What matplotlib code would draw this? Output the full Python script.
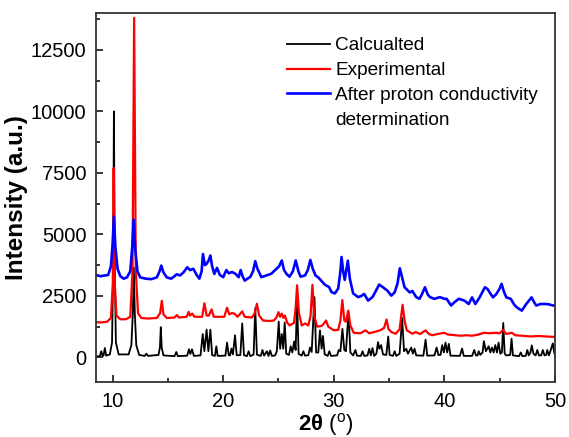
import numpy as np
import matplotlib
matplotlib.use('Agg')
import matplotlib.pyplot as plt
from matplotlib.lines import Line2D
from matplotlib.ticker import MultipleLocator

plt.rcParams['font.family'] = ['Liberation Sans', 'DejaVu Sans']
plt.rcParams['mathtext.fontset'] = 'custom'
plt.rcParams['mathtext.rm'] = 'Liberation Sans'
plt.rcParams['mathtext.bf'] = 'Liberation Sans:bold'

# (2theta, intensity)
calc = np.array([
    (8.5, 40), (8.85, 50), (8.98, 250), (9.1, 50), (9.18, 70), (9.3, 380), (9.42, 70),
    (9.75, 120), (9.95, 600), (10.05, 3500), (10.12, 10000), (10.2, 3500), (10.3, 600), (10.55, 120),
    (11.45, 120), (11.7, 500), (11.83, 1800), (11.92, 3650), (12.01, 1800), (12.14, 500), (12.4, 100),
    (12.9, 60), (13.05, 150), (13.2, 60), (14.15, 100), (14.28, 400), (14.36, 1230), (14.44, 400),
    (14.6, 80), (15.6, 50), (15.76, 220), (15.9, 50), (16.75, 70), (16.9, 330), (17.03, 140),
    (17.18, 330), (17.35, 60), (17.95, 80), (18.15, 950), (18.3, 250), (18.5, 1130), (18.66, 250),
    (18.84, 1130), (19.0, 90), (19.25, 60), (19.38, 450), (19.5, 60), (20.2, 70), (20.35, 600),
    (20.5, 90), (20.62, 80), (20.75, 360), (20.88, 120), (21.07, 900), (21.22, 90), (21.55, 90),
    (21.72, 1380), (21.88, 90), (22.15, 50), (22.3, 250), (22.45, 50), (22.75, 110), (22.9, 2000),
    (23.05, 110), (23.4, 60), (23.55, 300), (23.7, 70), (23.95, 250), (24.1, 60), (24.25, 280),
    (24.4, 60), (24.7, 80), (24.85, 250), (25.02, 1450), (25.15, 350), (25.3, 950), (25.43, 350),
    (25.56, 1420), (25.7, 150), (25.95, 100), (26.1, 450), (26.25, 200), (26.42, 650), (26.55, 300),
    (26.68, 2300), (26.82, 140), (27.1, 70), (27.25, 250), (27.4, 70), (27.7, 90), (27.85, 400),
    (28.0, 220), (28.25, 2450), (28.4, 200), (28.6, 200), (28.75, 1100), (28.9, 350), (29.02, 870),
    (29.18, 120), (29.45, 60), (29.6, 250), (29.75, 60), (30.3, 80), (30.45, 300), (30.6, 250),
    (30.78, 1160), (30.95, 300), (31.1, 250), (31.33, 1840), (31.5, 200), (31.75, 80), (31.95, 300),
    (32.1, 70), (32.45, 60), (32.6, 250), (32.75, 60), (33.05, 80), (33.2, 350), (33.35, 80),
    (33.5, 380), (33.65, 60), (33.85, 150), (34.0, 620), (34.12, 350), (34.28, 500), (34.45, 120),
    (34.75, 100), (34.92, 850), (35.05, 100), (35.35, 60), (35.5, 250), (35.65, 60), (35.95, 150),
    (36.18, 1600), (36.35, 250), (36.55, 350), (36.7, 150), (37.0, 400), (37.15, 150), (37.3, 350),
    (37.45, 80), (38.1, 70), (38.3, 720), (38.45, 70), (39.1, 80), (39.3, 400), (39.45, 100),
    (39.65, 100), (39.8, 500), (39.95, 200), (40.1, 600), (40.25, 200), (40.4, 550), (40.55, 70),
    (41.4, 60), (41.6, 360), (41.75, 60), (42.5, 60), (42.7, 300), (42.85, 80), (43.0, 80),
    (43.1, 250), (43.25, 100), (43.45, 200), (43.57, 660), (43.75, 250), (44.0, 450), (44.15, 200),
    (44.3, 400), (44.45, 200), (44.6, 500), (44.75, 200), (44.9, 600), (45.05, 150), (45.2, 200),
    (45.32, 1400), (45.45, 150), (45.6, 80), (45.95, 100), (46.07, 760), (46.2, 80), (46.75, 50),
    (46.9, 200), (47.05, 50), (47.35, 60), (47.5, 300), (47.62, 80), (47.78, 200), (47.9, 490),
    (48.05, 150), (48.25, 80), (48.4, 300), (48.55, 80), (48.75, 80), (48.9, 300), (49.05, 80),
    (49.2, 100), (49.3, 300), (49.45, 80), (49.65, 350), (49.8, 570), (49.95, 150), (50.0, 100),
])

expt = np.array([
    (8.5, 1430), (9.0, 1420), (9.5, 1450), (9.85, 1600), (10.02, 3000), (10.1, 7700), (10.2, 3000),
    (10.35, 1700), (10.7, 1550), (11.2, 1550), (11.6, 1650), (11.8, 3500), (11.95, 13800),
    (12.1, 3500), (12.3, 1800), (12.6, 1600), (13.2, 1580), (14.0, 1600), (14.3, 1800), (14.45, 2300),
    (14.6, 1750), (14.9, 1600), (15.6, 1620), (15.8, 1720), (16.0, 1620), (16.7, 1650), (16.88, 1850),
    (17.0, 1700), (17.2, 1780), (17.4, 1650), (18.1, 1650), (18.3, 2200), (18.5, 1700), (18.7, 1700),
    (18.95, 1950), (19.15, 1650), (20.1, 1650), (20.35, 2020), (20.55, 1750), (20.8, 1800),
    (21.0, 1780), (21.3, 1650), (21.72, 1870), (21.95, 1650), (22.6, 1620), (22.85, 1800),
    (23.05, 2180), (23.25, 1700), (23.6, 1500), (24.2, 1480), (24.6, 1500), (24.85, 1650),
    (25.0, 1840), (25.15, 1650), (25.3, 1780), (25.45, 1600), (25.58, 1700), (25.8, 1400),
    (26.0, 1300), (26.4, 1400), (26.55, 2000), (26.68, 2930), (26.85, 1800), (27.1, 1300),
    (27.4, 1380), (27.7, 1300), (27.9, 1700), (28.07, 2950), (28.22, 1700), (28.5, 1250),
    (28.9, 1280), (29.15, 1400), (29.3, 1500), (29.5, 1250), (30.0, 1100), (30.4, 1120), (30.6, 1500),
    (30.77, 2330), (30.95, 1500), (31.1, 1450), (31.3, 1900), (31.5, 1300), (31.8, 1000), (32.4, 980),
    (32.87, 1100), (33.2, 980), (33.8, 1050), (34.2, 1100), (34.55, 1200), (34.77, 1540),
    (34.95, 1150), (35.2, 1030), (35.6, 960), (35.95, 1150), (36.1, 1700), (36.22, 2140), (36.4, 1500),
    (36.6, 1100), (37.1, 960), (37.4, 1030), (37.8, 950), (38.3, 1100), (38.6, 950), (38.9, 900),
    (39.4, 950), (40.0, 1000), (40.3, 930), (41.0, 900), (41.5, 880), (42.0, 900), (42.5, 880),
    (43.0, 920), (43.6, 1000), (44.1, 980), (44.6, 1000), (45.0, 980), (45.3, 1120), (45.6, 950),
    (46.1, 1000), (46.4, 900), (47.0, 880), (47.8, 850), (48.5, 870), (49.2, 850), (50.0, 830),
])

after = np.array([
    (8.5, 3350), (8.9, 3300), (9.3, 3330), (9.6, 3350), (9.85, 3700), (10.0, 4600), (10.12, 5720),
    (10.25, 4500), (10.45, 3600), (10.7, 3300), (11.0, 3200), (11.3, 3250), (11.6, 3500),
    (11.78, 4500), (11.9, 5600), (12.05, 4400), (12.25, 3500), (12.5, 3250), (13.0, 3200),
    (13.5, 3180), (14.0, 3250), (14.25, 3500), (14.4, 3730), (14.6, 3450), (14.9, 3250), (15.3, 3200),
    (15.6, 3300), (15.8, 3380), (16.1, 3330), (16.4, 3450), (16.75, 3660), (17.0, 3550), (17.3, 3600),
    (17.6, 3350), (17.85, 3200), (18.05, 3500), (18.17, 4200), (18.35, 3750), (18.5, 3800),
    (18.7, 3950), (18.84, 4140), (19.0, 3700), (19.2, 3390), (19.44, 3640), (19.7, 3350),
    (20.0, 3260), (20.29, 3550), (20.5, 3420), (20.8, 3470), (21.1, 3400), (21.4, 3260),
    (21.58, 3550), (21.75, 3300), (21.95, 3120), (22.2, 3200), (22.45, 3270), (22.7, 3500),
    (22.9, 3910), (23.1, 3600), (23.45, 3260), (23.9, 3330), (24.35, 3400), (24.8, 3590),
    (25.05, 3700), (25.3, 3940), (25.5, 3550), (25.75, 3380), (26.0, 3280), (26.3, 3500),
    (26.56, 3940), (26.8, 3500), (27.0, 3280), (27.4, 3330), (27.65, 3550), (27.88, 3960),
    (28.1, 3600), (28.35, 3330), (28.6, 3250), (28.86, 3120), (29.2, 2950), (29.57, 2860),
    (29.8, 2650), (30.1, 2600), (30.4, 2800), (30.6, 3500), (30.7, 4080), (30.85, 3500),
    (30.99, 3150), (31.15, 3600), (31.27, 3930), (31.45, 3200), (31.75, 2600), (32.2, 2450),
    (32.5, 2500), (32.74, 2580), (33.1, 2310), (33.5, 2450), (33.8, 2700), (34.1, 2960),
    (34.45, 2850), (34.85, 2710), (35.2, 2510), (35.5, 2640), (35.76, 3000), (35.97, 3620),
    (36.15, 3300), (36.4, 2850), (36.87, 2640), (37.1, 2700), (37.45, 2450), (37.75, 2380),
    (38.0, 2600), (38.24, 2850), (38.5, 2550), (38.7, 2450), (39.1, 2380), (39.6, 2450),
    (40.0, 2380), (40.2, 2380), (40.6, 2110), (40.9, 2240), (41.3, 2380), (41.8, 2310), (42.2, 2170),
    (42.5, 2440), (42.8, 2170), (43.2, 2450), (43.66, 2850), (43.9, 2780), (44.15, 2600),
    (44.4, 2440), (44.7, 2580), (45.0, 2800), (45.17, 2990), (45.4, 2650), (45.6, 2440),
    (46.0, 2380), (46.3, 2150), (46.53, 2040), (47.0, 1900), (47.4, 2170), (47.88, 2440),
    (48.1, 2250), (48.3, 2110), (48.7, 2170), (49.2, 2170), (49.5, 2150), (49.8, 2110), (50.0, 2100),
])

labels = ['Calcualted', 'Experimental', 'After proton conductivity', 'determination']

fig = plt.figure(figsize=(5.69, 4.37), dpi=100)
ax = fig.add_axes([0.1687, 0.1259, 0.8067, 0.8444])

l1, = ax.plot(calc[:, 0], calc[:, 1], c='black', lw=1.3)
l2, = ax.plot(expt[:, 0], expt[:, 1], c='red', lw=1.6)
l3, = ax.plot(after[:, 0], after[:, 1], c='blue', lw=1.9)
blank = Line2D([], [], color='none')

ax.set_xlim(8.5, 50)
ax.set_ylim(-1000, 14000)
ax.xaxis.set_major_locator(MultipleLocator(10))
ax.xaxis.set_minor_locator(MultipleLocator(5))
ax.yaxis.set_major_locator(MultipleLocator(2500))
ax.yaxis.set_minor_locator(MultipleLocator(1250))
ax.tick_params(which='both', direction='in', top=False, right=False, labelsize=14.5, width=1.1)
ax.tick_params(which='major', length=5, pad=7)
ax.tick_params(which='minor', length=3)
for s in ax.spines.values():
    s.set_linewidth(1.3)
    s.set_color('#333333')

ax.set_xlabel(r'$\mathbf{2\theta}$ ($^{\mathrm{o}}$)', fontsize=16, labelpad=0)
ax.set_ylabel('Intensity (a.u.)', fontsize=17.5, fontweight='bold', labelpad=2)

ax.legend([l1, l2, l3, blank], labels, loc='upper left', bbox_to_anchor=(0.416, 0.935),
          frameon=False, fontsize=13.7, handlelength=2.25, handletextpad=0.3,
          labelspacing=0.4, borderpad=0, borderaxespad=0)

fig.savefig('out.png', dpi=100)
